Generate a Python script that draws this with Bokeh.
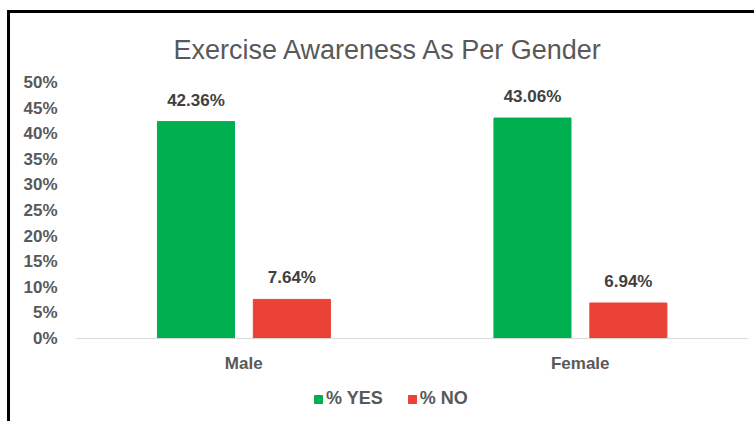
from bokeh.plotting import figure
from bokeh.layouts import column
from bokeh.core.properties import value
from bokeh.models import (ColumnDataSource, LabelSet, Legend, LegendItem, PrintfTickFormatter,
                          Range1d, FactorRange, Span)
from bokeh.transform import dodge
from bokeh.embed import file_html
from bokeh.resources import INLINE

genders = ["Male", "Female"]
yes_pct = [42.36, 43.06]
no_pct = [7.64, 6.94]
series_names = ["% YES", "% NO"]
title_text = "Exercise Awareness As Per Gender"
y_ticks = [0, 5, 10, 15, 20, 25, 30, 35, 40, 45, 50]

GREEN = "#00B050"
RED = "#EA4335"
TXT = "#595959"
FONT = "Liberation Sans"

src = ColumnDataSource(dict(
    g=genders, yes=yes_pct, no=no_pct,
    yes_lbl=[f"{v:.2f}%" for v in yes_pct],
    no_lbl=[f"{v:.2f}%" for v in no_pct],
))

# frame extends below the zero line to host category labels and legend
p = figure(x_range=FactorRange(*genders, range_padding=0), y_range=Range1d(-16.2, 50),
           width=744, height=408, output_backend="svg", toolbar_location=None,
           min_border_left=65, min_border_right=6, min_border_top=69, min_border_bottom=0)

p.title.text = title_text
p.title.text_font = FONT
p.title.text_font_size = "27px"
p.title.text_font_style = "normal"
p.title.text_color = TXT
p.title.align = "left"
p.title.offset = 98
p.title.standoff = 36

r_yes = p.vbar(x=dodge("g", -0.142, range=p.x_range), top="yes", width=0.229, source=src,
               fill_color=GREEN, line_color=GREEN)
r_no = p.vbar(x=dodge("g", 0.143, range=p.x_range), top="no", width=0.229, source=src,
              fill_color=RED, line_color=RED)

for col, lbl, off in (("yes", "yes_lbl", -0.142), ("no", "no_lbl", 0.143)):
    ls = LabelSet(x=dodge("g", off, range=p.x_range), y=col, text=lbl, source=src,
                  text_align="center", text_baseline="bottom", y_offset=12,
                  text_font=value(FONT), text_font_style="bold", text_font_size="17px",
                  text_color="#404040")
    p.add_layout(ls)

# zero baseline and category labels
p.add_layout(Span(location=0, dimension="width", line_color="#D9D9D9", line_width=1))
p.add_layout(LabelSet(x="g", y=0, text="g", source=src, text_align="center", text_baseline="top",
                      y_offset=-15, text_font=value(FONT), text_font_style="bold",
                      text_font_size="17px", text_color=TXT))

p.xaxis.visible = False
p.xgrid.grid_line_color = None
p.ygrid.grid_line_color = None
p.outline_line_color = None

p.yaxis.ticker = y_ticks
p.yaxis.formatter = PrintfTickFormatter(format="%d%%")
p.yaxis.axis_line_color = None
p.yaxis.major_tick_line_color = None
p.yaxis.minor_tick_line_color = None
p.yaxis.major_label_standoff = 12
p.yaxis.major_label_text_font = FONT
p.yaxis.major_label_text_font_style = "bold"
p.yaxis.major_label_text_font_size = "17px"
p.yaxis.major_label_text_color = TXT

legend = Legend(items=[LegendItem(label=series_names[0], renderers=[r_yes]),
                       LegendItem(label=series_names[1], renderers=[r_no])],
                orientation="horizontal", location=(238, 12),
                label_text_font=FONT, label_text_font_style="bold", label_text_font_size="18px",
                label_text_color=TXT, glyph_width=10, glyph_height=10, label_standoff=3,
                spacing=24, border_line_color=None, background_fill_alpha=0, margin=0, padding=4)
p.add_layout(legend, "center")

layout = column(p, styles={"border-top": "3px solid black", "border-left": "3px solid black",
                           "margin-left": "7px", "margin-top": "10px"})
open("out.html", "w").write(file_html(layout, INLINE))
